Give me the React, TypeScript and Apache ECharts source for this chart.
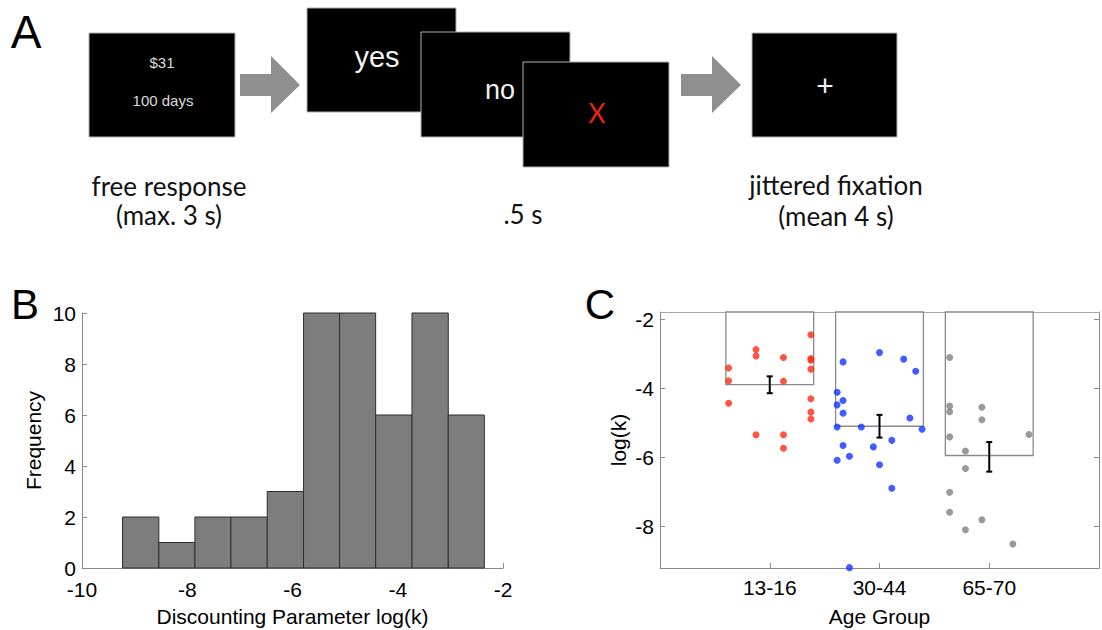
import React, { useEffect, useRef } from 'react';
import * as echarts from 'echarts';

// ---------- Panel B: histogram of log(k) ----------
const binEdges = [-9.23, -8.54, -7.855, -7.17, -6.48, -5.79, -5.105, -4.42, -3.73, -3.04, -2.355];
const binCounts = [2, 1, 2, 2, 3, 10, 10, 6, 10, 6];

// ---------- Panel C: log(k) by age group ----------
const ageGroups = ['13-16', '30-44', '65-70'];
const groupMeans = [-3.89, -5.1, -5.95];
const groupErrLow = [-4.14, -5.43, -6.42];
const groupErrHigh = [-3.65, -4.77, -5.56];

const teenPoints = [
  [0.625, -3.41], [0.625, -3.78], [0.625, -4.43],
  [0.875, -2.87], [0.875, -3.06], [0.875, -5.35],
  [1.125, -3.1], [1.125, -3.79], [1.125, -5.35], [1.125, -5.74],
  [1.375, -2.44], [1.375, -3.13], [1.375, -3.18], [1.375, -3.44], [1.375, -4.3], [1.375, -4.69], [1.375, -4.89],
];
const adultPoints = [
  [1.668, -3.23], [2.0, -2.96], [2.22, -3.15], [2.33, -3.5],
  [1.614, -4.11], [1.668, -4.35], [1.614, -4.48], [1.668, -4.72],
  [1.614, -5.12], [1.834, -5.12], [2.277, -4.86], [2.388, -5.19],
  [1.668, -5.66], [1.614, -6.09], [1.726, -5.97], [1.944, -5.7],
  [2.112, -5.51], [2.0, -6.22], [2.112, -6.9], [1.726, -9.21],
];
const olderPoints = [
  [2.639, -3.1], [2.639, -4.51], [2.639, -4.68], [2.639, -5.41], [2.639, -7.02], [2.639, -7.6],
  [2.783, -5.82], [2.783, -6.33], [2.783, -8.11],
  [2.933, -4.55], [2.933, -4.91], [2.933, -7.82],
  [3.215, -8.52], [3.362, -5.34],
];
const logKTicks = [-8, -6, -4, -2];
const logKMin = -9.22;
const logKMax = -1.78;

const AX = 'Liberation Sans, Arial, Helvetica, sans-serif';
const CAP = 'Lato, "Open Sans", sans-serif';
const axisGray = '#8a8a8a';

function screen(x: number, y: number, w: number, h: number) {
  return {
    type: 'rect',
    shape: { x, y, width: w, height: h },
    style: { fill: '#000', stroke: '#b0b0b0', lineWidth: 1 },
  };
}
function arrow(x: number) {
  return {
    type: 'polygon',
    shape: {
      points: [[x, 74], [x + 31, 74], [x + 31, 56], [x + 60, 85], [x + 31, 113], [x + 31, 96], [x, 96]],
    },
    style: { fill: '#8f8f8f' },
  };
}
function txt(text: string, x: number, y: number, size: number, fill: string, font = AX, lineHeight?: number) {
  return {
    type: 'text',
    x,
    y,
    style: {
      text, fontSize: size, fill, fontFamily: font, align: 'center', verticalAlign: 'middle',
      lineHeight: lineHeight ?? Math.round(size * 1.15),
    },
  };
}

export default function App() {
  const ref = useRef<HTMLDivElement>(null);
  useEffect(() => {
    if (!ref.current) return;
    const chart = echarts.init(ref.current, null, { renderer: 'svg' });
    const labelStyle = { fontSize: 21, color: '#000', fontFamily: AX };
    const nameStyle = { fontSize: 21, color: '#000', fontFamily: AX };
    chart.setOption({
      animation: false,
      backgroundColor: '#fff',
      grid: [
        { left: 82, top: 313, width: 421, height: 255 },
        { left: 660, top: 312, width: 445, height: 256 },
      ],
      xAxis: [
        {
          gridIndex: 0, type: 'value', min: -10, max: -2, interval: 2,
          axisLine: { show: true, onZero: false, lineStyle: { color: axisGray, width: 1 } },
          axisTick: { show: true, inside: true, length: 5, lineStyle: { color: axisGray } },
          axisLabel: { ...labelStyle, margin: 13, lineHeight: 16 },
          splitLine: { show: false },
          name: 'Discounting Parameter log(k)', nameLocation: 'middle', nameGap: 38, nameTextStyle: nameStyle,
        },
        {
          gridIndex: 1, type: 'value', min: 0, max: 4, interval: 1,
          axisLine: { show: true, onZero: false, lineStyle: { color: axisGray, width: 1 } },
          axisTick: { show: true, inside: true, length: 5, lineStyle: { color: axisGray } },
          axisLabel: {
            ...labelStyle, margin: 11, lineHeight: 16,
            formatter: (v: number) => ageGroups[Math.round(v) - 1] ?? '',
          },
          splitLine: { show: false },
          name: 'Age Group', nameLocation: 'middle', nameGap: 38, nameTextStyle: nameStyle,
        },
        {
          gridIndex: 1, type: 'value', min: 0, max: 4, position: 'top',
          axisLine: { show: true, onZero: false, lineStyle: { color: '#a8a8a8', width: 1 } },
          axisTick: { show: false }, axisLabel: { show: false }, splitLine: { show: false },
        },
      ],
      yAxis: [
        {
          gridIndex: 0, type: 'value', min: 0, max: 10, interval: 2,
          axisLine: { show: true, onZero: false, lineStyle: { color: axisGray, width: 1 } },
          axisTick: { show: true, inside: true, length: 5, lineStyle: { color: axisGray } },
          axisLabel: { ...labelStyle, margin: 6, lineHeight: 16, padding: [0, 0, 3, 0] },
          splitLine: { show: false },
          name: 'Frequency', nameLocation: 'middle', nameGap: 38, nameTextStyle: nameStyle,
        },
        {
          gridIndex: 1, type: 'value', min: logKMin, max: logKMax,
          axisLine: { show: true, onZero: false, lineStyle: { color: axisGray, width: 1 } },
          axisTick: { show: true, inside: true, length: 5, customValues: logKTicks, lineStyle: { color: axisGray } },
          axisLabel: { ...labelStyle, margin: 6, lineHeight: 16, customValues: logKTicks },
          splitLine: { show: false },
          name: 'log(k)', nameLocation: 'middle', nameGap: 31, nameTextStyle: nameStyle,
        },
        {
          gridIndex: 1, type: 'value', min: logKMin, max: logKMax, position: 'right',
          axisLine: { show: true, onZero: false, lineStyle: { color: axisGray, width: 1 } },
          axisTick: { show: true, inside: true, length: 5, customValues: logKTicks, lineStyle: { color: axisGray } },
          axisLabel: { show: false },
          splitLine: { show: false },
        },
      ],
      series: [
        {
          type: 'custom', xAxisIndex: 0, yAxisIndex: 0,
          data: binCounts.map((c, i) => [binEdges[i], binEdges[i + 1], c]),
          encode: { x: [0, 1], y: 2 },
          renderItem: (_p: any, api: any) => {
            const a = api.coord([api.value(0), api.value(2)]);
            const b = api.coord([api.value(1), 0]);
            return {
              type: 'rect',
              shape: { x: a[0], y: a[1], width: b[0] - a[0], height: b[1] - a[1] },
              style: { fill: '#7d7d7d', stroke: '#2e2e2e', lineWidth: 1 },
            };
          },
          z: 3,
        },
        {
          type: 'custom', xAxisIndex: 1, yAxisIndex: 1,
          data: groupMeans.map((m, i) => [i + 1, m]),
          encode: { x: 0, y: 1 },
          renderItem: (_p: any, api: any) => {
            const x = api.value(0);
            const a = api.coord([x - 0.4, logKMax]);
            const b = api.coord([x + 0.4, api.value(1)]);
            return {
              type: 'rect',
              shape: { x: a[0], y: a[1], width: b[0] - a[0], height: b[1] - a[1] },
              style: { fill: '#fff', stroke: '#8a8a8a', lineWidth: 1.3 },
            };
          },
          z: 2,
        },
        {
          type: 'scatter', xAxisIndex: 1, yAxisIndex: 1, data: teenPoints, symbolSize: 7, clip: false,
          itemStyle: { color: '#fb2b17' }, z: 4,
        },
        {
          type: 'scatter', xAxisIndex: 1, yAxisIndex: 1, data: adultPoints, symbolSize: 7, clip: false,
          itemStyle: { color: '#1233ff' }, z: 4,
        },
        {
          type: 'scatter', xAxisIndex: 1, yAxisIndex: 1, data: olderPoints, symbolSize: 7, clip: false,
          itemStyle: { color: '#808080' }, z: 4,
        },
        {
          type: 'custom', xAxisIndex: 1, yAxisIndex: 1,
          data: groupMeans.map((_m, i) => [i + 1, groupErrLow[i], groupErrHigh[i]]),
          encode: { x: 0, y: [1, 2] },
          renderItem: (_p: any, api: any) => {
            const lo = api.coord([api.value(0), api.value(1)]);
            const hi = api.coord([api.value(0), api.value(2)]);
            const st = { stroke: '#000', lineWidth: 2 };
            return {
              type: 'group',
              children: [
                { type: 'line', shape: { x1: lo[0], y1: lo[1], x2: hi[0], y2: hi[1] }, style: st },
                { type: 'line', shape: { x1: lo[0] - 3, y1: lo[1], x2: lo[0] + 3, y2: lo[1] }, style: st },
                { type: 'line', shape: { x1: hi[0] - 3, y1: hi[1], x2: hi[0] + 3, y2: hi[1] }, style: st },
              ],
            };
          },
          z: 5,
        },
      ],
      graphic: [
        txt('A', 26, 32, 46, '#000'),
        txt('B', 25, 304, 42, '#000'),
        txt('C', 600, 304, 42, '#000'),
        screen(89, 33, 146, 104),
        txt('$31', 162, 62, 15, '#dcdcdc'),
        txt('100 days', 163, 100, 15, '#dcdcdc'),
        arrow(240),
        screen(307, 8, 149, 104),
        txt('yes', 377, 57, 29, '#f2f2f2'),
        screen(421, 32, 149, 105),
        txt('no', 500, 90, 27, '#f2f2f2'),
        screen(523, 62, 146, 105),
        txt('X', 597, 113, 26, '#f0240f', CAP),
        arrow(681),
        screen(752, 33, 145, 104),
        txt('+', 825, 85, 30, '#f2f2f2'),
        txt('free response\n(max. 3 s)', 169, 200, 26, '#111', CAP, 29),
        txt('.5 s', 523, 214, 26, '#111', CAP),
        txt('jittered fixation\n(mean 4 s)', 836, 200, 26, '#111', CAP, 31),
      ],
    });
    return () => chart.dispose();
  }, []);
  return (
    <div
      ref={ref}
      style={{ position: 'absolute', left: 0, top: 0, width: 1102, height: 630, background: '#fff' }}
    />
  );
}
